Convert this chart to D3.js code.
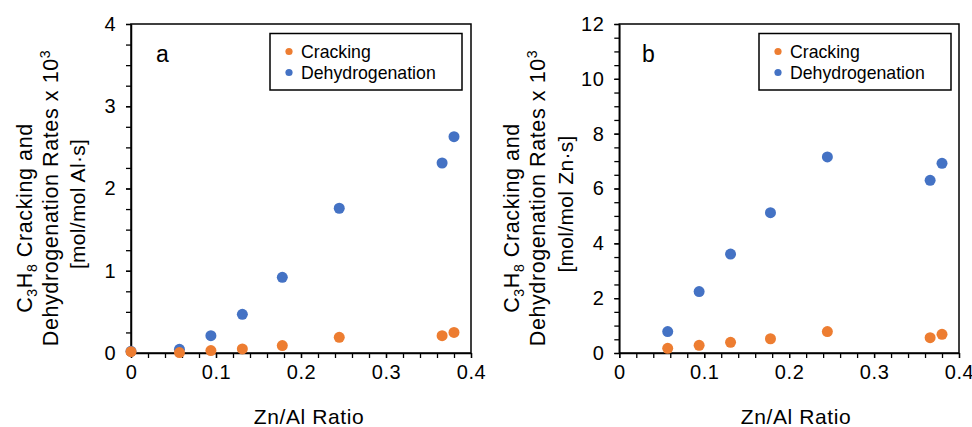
<!DOCTYPE html>
<html>
<head>
<meta charset="utf-8">
<script src="https://cdn.jsdelivr.net/npm/d3@7"></script>
<style>
  html, body { margin: 0; padding: 0; background: #fff; }
  svg { display: block; font-family: "Liberation Sans", Arial, sans-serif; }
</style>
</head>
<body>
<svg id="chart" width="972" height="427"></svg>
<script>
// ---- Data ----
const seriesNames = ["Cracking", "Dehydrogenation"];
const seriesColors = ["#ED7D31", "#4472C4"];

// Panel a: rates per mol Al
const ratioA = [0, 0.057, 0.094, 0.131, 0.178, 0.245, 0.366, 0.380];
const crackingA = [0.016, 0.005, 0.03, 0.05, 0.09, 0.19, 0.21, 0.25];
const dehydroA = [0.02, 0.045, 0.21, 0.47, 0.92, 1.76, 2.31, 2.63];

// Panel b: rates per mol Zn
const ratioB = [0.057, 0.094, 0.131, 0.178, 0.245, 0.366, 0.380];
const crackingB = [0.17, 0.28, 0.39, 0.52, 0.78, 0.56, 0.68];
const dehydroB = [0.78, 2.24, 3.61, 5.12, 7.15, 6.30, 6.92];

const xTicks = [0, 0.1, 0.2, 0.3, 0.4];
const yTicksA = [0, 1, 2, 3, 4];
const yTicksB = [0, 2, 4, 6, 8, 10, 12];

const xTitle = "Zn/Al Ratio";

const svg = d3.select("#chart");

function drawPanel(cfg) {
  const g = svg.append("g");
  const x = d3.scaleLinear().domain([0, 0.4]).range([cfg.left, cfg.right]);
  const y = d3.scaleLinear().domain([0, cfg.yMax]).range([cfg.bottom, cfg.top]);

  // frame
  g.append("rect")
    .attr("x", cfg.left).attr("y", cfg.top)
    .attr("width", cfg.right - cfg.left).attr("height", cfg.bottom - cfg.top)
    .attr("fill", "none").attr("stroke", "#000").attr("stroke-width", 1.5);

  // minor + major ticks (y)
  const yMinor = d3.range(0, cfg.yMax + 1e-9, cfg.yMinor);
  g.append("g").attr("transform", `translate(${cfg.left},0)`)
    .call(d3.axisLeft(y).tickValues(yMinor).tickFormat("").tickSize(5).tickSizeOuter(0))
    .call(a => a.select(".domain").attr("stroke-width", 1.5))
    .call(a => a.selectAll("line").attr("stroke-width", 1.3));
  g.append("g").attr("transform", `translate(${cfg.left},0)`)
    .call(d3.axisLeft(y).tickValues(cfg.yTicks).tickFormat(d3.format("d")).tickSize(5).tickPadding(10).tickSizeOuter(0))
    .call(a => a.select(".domain").remove())
    .call(a => a.selectAll("line").attr("stroke-width", 1.3))
    .call(a => a.selectAll("text").attr("font-size", 20).attr("fill", "#000")
      .attr("font-family", "Liberation Sans, Arial, sans-serif").style("letter-spacing", "0.5px"));

  // x ticks
  const xMinor = d3.range(0, 0.4 + 1e-9, 0.02);
  g.append("g").attr("transform", `translate(0,${cfg.bottom})`)
    .call(d3.axisBottom(x).tickValues(xMinor).tickFormat("").tickSize(5).tickSizeOuter(0))
    .call(a => a.select(".domain").attr("stroke-width", 1.5))
    .call(a => a.selectAll("line").attr("stroke-width", 1.3));
  g.append("g").attr("transform", `translate(0,${cfg.bottom})`)
    .call(d3.axisBottom(x).tickValues(xTicks).tickFormat(d => d === 0 ? "0" : d3.format(".1f")(d)).tickSize(5).tickPadding(7).tickSizeOuter(0))
    .call(a => a.select(".domain").remove())
    .call(a => a.selectAll("line").attr("stroke-width", 1.3))
    .call(a => a.selectAll("text").attr("font-size", 20).attr("fill", "#000")
      .attr("font-family", "Liberation Sans, Arial, sans-serif").style("letter-spacing", "0.6px"));

  // points
  const sets = [
    { xs: cfg.ratio, ys: cfg.dehydro, color: seriesColors[1] },
    { xs: cfg.ratio, ys: cfg.cracking, color: seriesColors[0] }
  ];
  sets.forEach(s => {
    g.append("g").selectAll("circle")
      .data(s.xs.map((v, i) => [v, s.ys[i]]))
      .join("circle")
      .attr("cx", d => x(d[0])).attr("cy", d => y(d[1]))
      .attr("r", 5.5).attr("fill", s.color);
  });

  // panel letter
  g.append("text").attr("x", cfg.letterX).attr("y", 62)
    .attr("font-size", 23).attr("fill", "#000").text(cfg.letter);

  // legend
  const lg = g.append("g");
  lg.append("rect").attr("x", cfg.legX).attr("y", 33.5).attr("width", 192).attr("height", 56.5)
    .attr("fill", "#fff").attr("stroke", "#000").attr("stroke-width", 1.5);
  seriesNames.forEach((n, i) => {
    const cy = 51.5 + i * 21;
    lg.append("circle").attr("cx", cfg.legX + 19).attr("cy", cy).attr("r", 3.6).attr("fill", seriesColors[i]);
    lg.append("text").attr("x", cfg.legX + 31).attr("y", cy + 6.3)
      .attr("font-size", 17.7).attr("fill", "#000").text(n);
  });

  // x title
  g.append("text").attr("x", cfg.xTitleX).attr("y", 424)
    .attr("text-anchor", "middle").attr("font-size", 21).style("letter-spacing", "0.6px")
    .attr("fill", "#000").text(xTitle);

  // y title (three lines, rotated)
  const yt = g.append("g").style("letter-spacing", "0.6px");
  const line1 = yt.append("text")
    .attr("transform", `translate(${cfg.ytX[0] + 7.5},218) rotate(-90)`)
    .attr("text-anchor", "middle").attr("font-size", 21.5).attr("fill", "#000");
  line1.append("tspan").text("C");
  line1.append("tspan").attr("font-size", 14).attr("dy", 5).text("3");
  line1.append("tspan").attr("dy", -5).text("H");
  line1.append("tspan").attr("font-size", 14).attr("dy", 5).text("8");
  line1.append("tspan").attr("dy", -5).text("\u00A0Cracking and");

  const line2 = yt.append("text")
    .attr("transform", `translate(${cfg.ytX[1] + 7.5},198) rotate(-90)`)
    .attr("text-anchor", "middle").attr("font-size", 21.5).attr("fill", "#000");
  line2.append("tspan").text("Dehydrogenation Rates x 10");
  line2.append("tspan").attr("font-size", 14).attr("dy", -8).text("3");

  yt.append("text")
    .attr("transform", `translate(${cfg.ytX[2] + 7.5},204) rotate(-90)`)
    .attr("text-anchor", "middle").attr("font-size", 21).attr("fill", "#000")
    .style("letter-spacing", "0.3px")
    .text(cfg.unit);
}

drawPanel({
  left: 131, right: 471, top: 24, bottom: 353,
  yMax: 4, yMinor: 0.25, yTicks: yTicksA,
  ratio: ratioA, cracking: crackingA, dehydro: dehydroA,
  letter: "a", letterX: 156, legX: 270, xTitleX: 309,
  ytX: [24, 50, 77], unit: "[mol/mol Al\u00B7s]"
});

drawPanel({
  left: 619.3, right: 959, top: 24, bottom: 353,
  yMax: 12, yMinor: 0.5, yTicks: yTicksB,
  ratio: ratioB, cracking: crackingB, dehydro: dehydroB,
  letter: "b", letterX: 642, legX: 759, xTitleX: 796,
  ytX: [511, 537, 565], unit: "[mol/mol Zn\u00B7s]"
});
</script>
</body>
</html>
